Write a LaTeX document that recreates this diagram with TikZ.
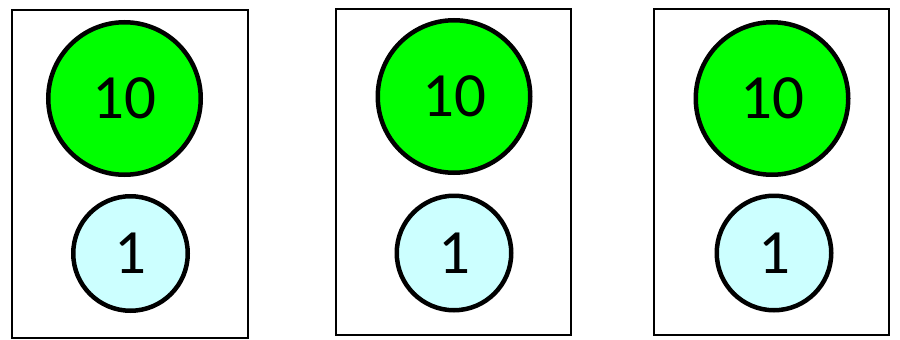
\documentclass[tikz,border=0pt]{standalone}
\usepackage{fontspec}
\setmainfont{Carlito}
\begin{document}
\begin{tikzpicture}[x=1pt,y=-1pt,
  panel/.style={draw=black,line width=2pt,fill=white},
  big/.style={circle,draw=black,line width=4.5pt,fill={rgb,255:red,0;green,255;blue,0},minimum size=152.5pt,inner sep=0pt,font=\fontsize{63}{63}\selectfont},
  small/.style={circle,draw=black,line width=4.5pt,fill={rgb,255:red,204;green,255;blue,255},minimum size=114.5pt,inner sep=0pt,font=\fontsize{63}{63}\selectfont}]
\useasboundingbox (0,0) rectangle (900,340);
\draw[panel] (11.5,10) rectangle (248,338);
\draw[panel] (336,9) rectangle (571,335);
\draw[panel] (654,9) rectangle (889,335);
\node[big] (a1) at (124.5,98.5) {10};
\node[small] (b1) at (130.5,253.5) {1};
\node[big] (a2) at (454,96.5) {10};
\node[small] (b2) at (454,253) {1};
\node[big] (a3) at (772,98.5) {10};
\node[small] (b3) at (774,253) {1};
\end{tikzpicture}
\end{document}
